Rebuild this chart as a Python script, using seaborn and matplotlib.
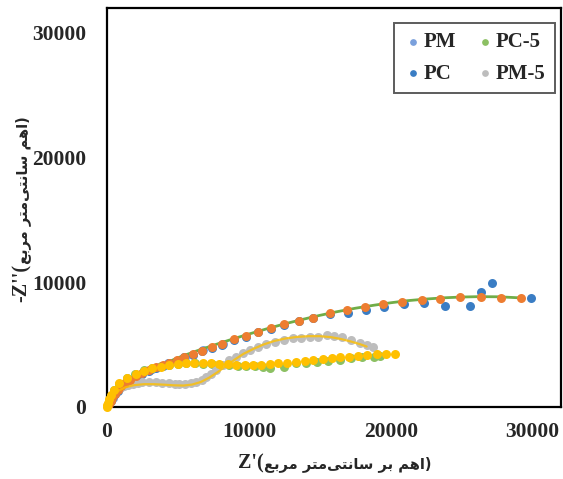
import numpy as np
import pandas as pd
import matplotlib
matplotlib.use("Agg")
import matplotlib.pyplot as plt
import seaborn as sns

# ---------------- data ----------------
pc_x = [0, 60, 140, 250, 380, 550, 750, 1000, 1300, 1650, 2050, 2500, 2972, 3444, 3916, 4388,
        4907, 5449, 6040, 6700, 7383, 8116, 8941, 9767, 10637, 11536, 12477, 13518, 14530,
        15711, 17009, 18259, 19533, 20900, 22318, 23850, 25574, 26327, 27152, 29866]
pc_y = [0, 80, 230, 450, 720, 1010, 1300, 1600, 1900, 2150, 2400, 2650, 2920, 3130, 3320, 3500,
        3720, 3990, 4200, 4470, 4740, 5000, 5380, 5650, 5990, 6260, 6580, 6870, 7110,
        7480, 7510, 7779, 7995, 8260, 8316, 8100, 8100, 9248, 9920, 8717]

pm_x = [0, 150, 400, 800, 1400, 2200, 3200, 4300, 5500, 6800, 8200]
pm_y = [0, 260, 760, 1330, 1980, 2560, 3070, 3520, 4020, 4550, 5060]

pc5_x = [0, 40, 110, 250, 480, 830, 1400, 2000, 2600, 3200, 3800, 4400, 5000, 5600, 6200,
         6800, 7400, 8000, 8600, 9200, 9800, 10400, 11000, 11500, 12500, 13300, 14000,
         14800, 15600, 16400, 17200, 18000, 18800, 19250]
pc5_y = [0, 180, 480, 880, 1330, 1880, 2300, 2660, 2930, 3120, 3260, 3380, 3460, 3500, 3510,
         3480, 3440, 3400, 3360, 3320, 3280, 3250, 3200, 3100, 3235, 3500, 3560, 3620,
         3700, 3800, 3900, 3980, 4040, 4090]

pm5_x = [0, 50, 120, 220, 350, 520, 720, 950, 1200, 1500, 1800, 2150, 2500, 2970, 3450,
         3900, 4350, 4800, 5100, 5500, 5900, 6300, 6700, 7000, 7350, 7700, 8150, 8634,
         9100, 9576, 10100, 10637, 11200, 11819, 12450, 13116, 13700, 14296, 14900,
         15477, 16000, 16537, 17200, 17834, 18300, 18776]
pm5_y = [0, 150, 350, 600, 850, 1100, 1330, 1520, 1680, 1800, 1880, 1950, 1990, 2000, 1980,
         1940, 1890, 1860, 1850, 1860, 1900, 2000, 2180, 2400, 2680, 2970, 3350, 3769,
         4050, 4304, 4580, 4838, 5040, 5240, 5400, 5507, 5560, 5588, 5650, 5774, 5700,
         5588, 5400, 5160, 4980, 4785]

or_x = [0, 60, 140, 250, 380, 550, 750, 1000, 1300, 1650, 2050, 2500, 2972, 3444, 3916, 4388,
        4907, 5449, 6040, 6700, 7383, 8116, 8941, 9767, 10637, 11536, 12477, 13518, 14530,
        15711, 16890, 18188, 19486, 20785, 22200, 23496, 24912, 26327, 27742, 29158]
or_y = [0, 90, 250, 480, 750, 1050, 1350, 1650, 1950, 2200, 2450, 2700, 2967, 3182, 3368, 3555,
        3769, 4037, 4250, 4518, 4785, 5052, 5427, 5694, 6042, 6309, 6630, 6923, 7163,
        7564, 7779, 8046, 8260, 8447, 8581, 8661, 8847, 8847, 8767, 8717]

ye_x = [0, 30, 80, 160, 300, 495, 849, 1437, 2031, 2618, 3207, 3798, 4388, 4977, 5569, 6157,
        6747, 7338, 7926, 8516, 9106, 9696, 10286, 10874, 11465, 12052, 12689, 13305,
        13941, 14530, 15192, 15829, 16419, 17080, 17717, 18306, 19014, 19675, 20311]
ye_y = [0, 150, 350, 620, 950, 1363, 1900, 2300, 2646, 2911, 3101, 3235, 3368, 3448, 3502, 3555,
        3555, 3502, 3421, 3421, 3368, 3368, 3368, 3368, 3448, 3502, 3555, 3635,
        3715, 3769, 3825, 3902, 3982, 4037, 4090, 4170, 4223, 4223, 4223]

fitg_x = [0, 200, 500, 1000, 1500, 2200, 3000, 4000, 5000, 6200, 7500, 8800, 10000, 11200,
          12500, 13800, 15000, 16200, 17500, 18800, 20000, 21200, 22500, 23800, 25000,
          26200, 27500, 28300, 29000]
fitg_y = [0, 450, 1000, 1600, 2000, 2500, 2950, 3450, 3950, 4450, 4950, 5430, 5850, 6250,
          6660, 7030, 7350, 7640, 7920, 8160, 8360, 8530, 8660, 8760, 8820, 8850, 8840,
          8800, 8760]

fity_x = [0, 150, 400, 800, 1300, 1900, 2600, 3300, 4000, 4700, 5400, 6000, 6600, 7200,
          7800, 8400, 9000, 9600, 10300, 11000, 11800, 12600, 13400, 14200, 15000, 15800,
          16500, 17200, 17800, 18300]
fity_y = [0, 450, 900, 1300, 1580, 1750, 1830, 1830, 1790, 1740, 1720, 1800, 2000, 2350,
          2800, 3300, 3800, 4250, 4650, 5000, 5300, 5500, 5620, 5680, 5680, 5600, 5450,
          5250, 5050, 4850]

x_ticks = [0, 10000, 20000, 30000]
y_ticks = [0, 10000, 20000, 30000]
legend_labels = ["PM", "PC", "PC-5", "PM-5"]

# ---------------- labels (Persian, shaped into presentation forms, visual order) ----------------
w_morabba = "\uFECA\uFE91\uFEAE\uFEE3"                       # مربع
w_santimetr = "\uFEAE\uFE98\uFEE3" + "\uFBFD\uFE98\uFEE7\uFE8E\uFEB3"  # سانتی‌متر
w_bar = "\uFEAE\uFE91"                                        # بر
w_ohm = "\uFEE2\uFEEB\uFE8D"                                  # اهم
x_lat = "Z'("
x_fa = w_morabba + " " + w_santimetr + " " + w_bar + " " + w_ohm + ")"
y_lat = "-Z''("
y_fa = w_morabba + " " + w_santimetr + " " + w_ohm + ")"

# ---------------- plot ----------------
sns.set_theme(style="white")
plt.rcParams["font.family"] = ["Liberation Serif", "DejaVu Sans"]
plt.rcParams["font.weight"] = "bold"

fig = plt.figure(figsize=(5.63, 4.79), dpi=100)
ax = fig.add_axes([107 / 563, 72 / 479, (561 - 107) / 563, (407 - 8) / 479])

c_pm, c_pc, c_pc5, c_pm5 = "#7aa0dc", "#3a7dc4", "#8cc063", "#bdbdbd"
c_or, c_ye, c_gl = "#ed7d31", "#ffc000", "#70ad47"
ms = 42

sns.scatterplot(x=pm_x, y=pm_y, ax=ax, color=c_pm, s=ms, linewidth=0, label=legend_labels[0], zorder=2)
sns.scatterplot(x=pc_x, y=pc_y, ax=ax, color=c_pc, s=ms, linewidth=0, label=legend_labels[1], zorder=2)
sns.scatterplot(x=pc5_x, y=pc5_y, ax=ax, color=c_pc5, s=ms, linewidth=0, label=legend_labels[2], zorder=3)
sns.scatterplot(x=pm5_x, y=pm5_y, ax=ax, color=c_pm5, s=ms, linewidth=0, label=legend_labels[3], zorder=3)
sns.lineplot(x=fitg_x, y=fitg_y, ax=ax, color=c_gl, lw=2, sort=False, zorder=4, legend=False)
sns.scatterplot(x=or_x, y=or_y, ax=ax, color=c_or, s=ms, linewidth=0, zorder=5, legend=False)
sns.scatterplot(x=ye_x, y=ye_y, ax=ax, color=c_ye, s=ms, linewidth=0, zorder=6, legend=False,
                clip_on=False)
sns.lineplot(x=fity_x, y=fity_y, ax=ax, color=c_ye, lw=1.6, alpha=0.8, sort=False, zorder=6,
             legend=False)

ax.set_xlim(0, 32000)
ax.set_ylim(0, 32000)
ax.set_xticks(x_ticks)
ax.set_yticks(y_ticks)
ax.set_xticklabels([str(t) for t in x_ticks])
ax.set_yticklabels([str(t) for t in y_ticks])
ax.tick_params(axis="both", length=0, labelsize=15.5)
ax.tick_params(axis="y", pad=15)
ax.tick_params(axis="x", pad=11)
for lab in ax.get_xticklabels() + ax.get_yticklabels():
    lab.set_fontweight("bold")
for sp in ax.spines.values():
    sp.set_color("black")
    sp.set_linewidth(1.6)
ax.grid(False)

# axis titles: Latin part + Persian part drawn next to each other
t_x = fig.text(238 / 563, 1 - 463 / 479, x_lat, ha="left", va="center",
               fontsize=14.5, fontweight="bold", family="Liberation Serif")
ax.annotate(x_fa, xy=(1, 0.45), xycoords=t_x, ha="left", va="center",
            fontsize=10.5, fontweight="bold", family="DejaVu Sans", annotation_clip=False)
t_y = fig.text(22 / 563, 1 - 302 / 479, y_lat, ha="center", va="bottom", rotation=90,
               fontsize=14.5, fontweight="bold", family="Liberation Serif")
ax.annotate(y_fa, xy=(0.55, 1), xycoords=t_y, ha="center", va="bottom", rotation=90,
            fontsize=10.5, fontweight="bold", family="DejaVu Sans", annotation_clip=False)

leg = ax.legend(loc="upper right", bbox_to_anchor=(555 / 563, 1 - 23 / 479),
                bbox_transform=fig.transFigure, ncol=2, frameon=True, fancybox=False,
                prop={"family": "Liberation Serif", "weight": "bold", "size": 15},
                handletextpad=0.0, columnspacing=0.9, markerscale=0.75, borderpad=0.45,
                labelspacing=0.55, handlelength=1.0, borderaxespad=0)
leg.get_frame().set_edgecolor("#333333")
leg.get_frame().set_linewidth(1.4)

fig.savefig("out.png", dpi=100)
